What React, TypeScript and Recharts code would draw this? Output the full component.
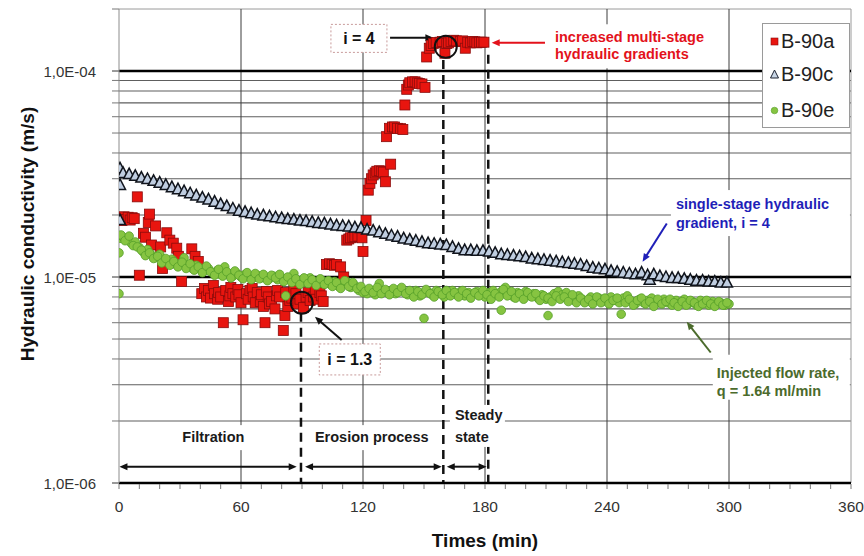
import React from 'react';
import { ScatterChart, Scatter, XAxis, YAxis, ReferenceLine, ReferenceDot, Legend, Label } from 'recharts';

const FONT = '"Liberation Sans", Arial, Helvetica, sans-serif';
const UNIT = 1e-6; // series values below are in units of 1E-06 m/s

// ---------- axes ----------
const xTicks = [0, 10, 20, 30, 40, 50, 60, 70, 80, 90, 100, 110, 120, 130, 140, 150, 160, 170, 180, 190, 200, 210, 220, 230, 240, 250, 260, 270, 280, 290, 300, 310, 320, 330, 340, 350, 360];
const xLabelled = [0, 60, 120, 180, 240, 300, 360];
const xGrid = [60, 120, 180, 240, 300];
const yDecades = [1e-6, 1e-5, 1e-4];
const yDecadeLabels = ['1,0E-06', '1,0E-05', '1,0E-04'];
const yMinor = [2e-6, 3e-6, 4e-6, 5e-6, 6e-6, 7e-6, 8e-6, 9e-6, 2e-5, 3e-5, 4e-5, 5e-5, 6e-5, 7e-5, 8e-5, 9e-5];
const yTop = 2e-4;
const yTicks = [...yDecades, ...yMinor, yTop].sort((a, b) => a - b);

// ---------- series: [time (min), K (1E-06 m/s)] ----------
const b90a: [number, number][] = [
  [0.5, 19.5], [1.5, 18.8], [2.5, 19.6], [3.5, 19.0], [4.5, 19.5], [5.5, 18.9], [6.5, 19.4], [7.5, 19.2],
  [9, 24.5], [10, 10.2], [12, 16.3], [13, 15.6], [14.4, 18.4], [15, 20.2], [16, 14.3], [18, 17.7],
  [20.5, 14.0], [21.4, 11.0], [23.5, 16.4], [25, 15.1], [26.7, 14.6], [28.4, 13.8], [29.2, 12.6], [30.8, 9.5],
  [35.8, 13.7], [37.4, 12.6], [39, 11.9], [40.7, 8.3], [42, 8.8], [43, 8.0], [44, 8.6], [45, 7.9], [46.4, 9.1], [47, 8.3],
  [48.5, 7.8], [49, 8.4], [50, 8.0], [51.3, 6.0], [52.5, 8.6], [53.8, 7.6], [54.5, 8.1], [55, 8.9], [56, 8.3], [57.4, 8.0],
  [58.5, 8.7], [59, 8.2], [60, 7.5], [61, 6.2], [62.7, 8.3], [63.5, 7.8], [64.4, 8.6], [65.5, 8.8], [66, 8.0], [67, 7.5],
  [68, 8.4], [69.5, 7.6], [70, 8.2], [71, 7.2], [71.8, 6.0], [72.5, 8.5], [73.4, 8.0], [74, 7.4], [75, 7.6], [76.7, 7.0],
  [77.5, 8.1], [78, 8.6], [79, 8.0], [80.8, 5.5], [81.6, 6.5], [82, 8.4], [83, 7.2], [84, 7.7], [85, 7.9], [86, 8.6],
  [87, 8.3], [88, 7.4], [89, 7.8], [90.7, 7.1], [92, 8.0], [93, 8.4], [94, 7.7], [95.6, 8.0], [96.5, 8.6], [97, 7.8],
  [98.8, 8.4], [99.5, 8.1], [100.4, 7.6], [102, 11.5], [103.5, 11.6], [104.8, 11.5], [106, 11.4],
  [107, 11.5], [109, 11.2], [110.5, 10.0], [112, 15.1], [113, 15.3], [113.8, 15.5], [115, 15.6], [116, 15.7],
  [117.5, 15.8], [119.5, 15.5], [120, 13.3], [121.5, 18.8], [122.6, 26.4], [123.4, 28.5], [124.2, 30.0], [125, 31.3],
  [126, 32.0], [126.8, 32.6], [128, 32.8], [129, 32.6], [130, 32.3], [131, 29.0], [131.6, 48.0], [133, 52.7],
  [133.6, 35.3], [134.5, 53.5], [135.5, 53.5], [137, 52.7], [138.5, 52.5], [139.6, 52.0], [140.6, 68.4], [141.5, 81.5],
  [142.3, 85.5], [143, 87.7], [144.3, 88.6], [145.6, 88.6], [146.7, 87.5], [147.7, 87.0], [149, 86.5], [150.5, 83.3],
  [151.3, 117], [152.6, 129], [153.5, 133], [154.6, 136], [156, 137.5], [157.9, 138], [159, 139], [160.3, 122],
  [161.2, 136], [162, 137], [163.3, 139], [164.6, 141], [166, 140], [167.9, 139], [169, 140], [170.3, 129],
  [171.5, 138], [172.8, 137], [174, 139], [175, 138.5], [176, 137], [177.2, 138], [178.3, 138], [179.5, 138],
];

const b90c: [number, number][] = [
  [0.5, 33.7], [0.5, 28.0], [0.5, 18.9], [2, 32.0], [5, 31.6], [8, 31.0], [11, 30.4], [14, 29.9], [17, 29.3],
  [20, 28.7], [23, 28.0], [26, 27.3], [29, 26.7], [32, 26.1], [35, 25.5], [38, 24.9], [41, 24.3], [44, 23.8],
  [47, 23.2], [50, 22.6], [53, 22.1], [56, 21.5], [59, 21.0], [62, 20.7], [65, 20.4], [68, 20.1], [71, 19.9],
  [74, 19.7], [77, 19.5], [80, 19.3], [83, 19.1], [86, 19.0], [89, 18.8], [92, 18.7], [95, 18.5], [98, 18.3],
  [101, 18.2], [104, 18.0], [107, 17.8], [110, 17.7], [113, 17.6], [116, 17.4], [119, 17.3], [122, 17.0], [125, 16.8],
  [128, 16.5], [131, 16.2], [134, 15.9], [137, 15.7], [140, 15.4], [143, 15.2], [146, 15.0], [149, 14.8], [152, 14.6],
  [155, 14.5], [158, 14.4], [161, 14.3], [164, 14.0], [167, 13.7], [170, 13.5], [173, 13.5], [176, 13.4], [179, 13.4],
  [182, 13.3], [185, 13.1], [188, 12.9], [191, 12.8], [194, 12.7], [197, 12.6], [200, 12.5], [203, 12.3], [206, 12.2],
  [209, 12.1], [212, 12.0], [215, 11.9], [218, 11.8], [221, 11.7], [224, 11.6], [227, 11.5], [230, 11.3], [233, 11.1],
  [236, 11.0], [239, 10.9], [242, 10.7], [245, 10.6], [248, 10.5], [251, 10.4], [254, 10.3], [257, 10.5], [260, 10.2],
  [261, 9.7], [263, 10.3], [266, 10.1], [269, 10.0], [272, 9.9], [275, 9.9], [278, 9.8], [281, 9.7], [284, 9.6],
  [287, 9.6], [290, 9.5], [293, 9.5], [296, 9.4], [299, 9.4],
];

const b90e: [number, number][] = [
  [0, 8.3], [0, 13.1], [1, 15.4], [2, 15.6], [4, 15.2], [6, 14.6], [8, 14.8], [10, 13.9], [12, 13.2], [14, 13.6],
  [16, 12.8], [18, 12.4], [20, 12.9], [22, 12.0], [24, 11.8], [26, 12.2], [28, 11.5], [30, 11.6], [32, 12.4], [34, 11.3],
  [36, 11.0], [38, 11.4], [40, 10.9], [42, 10.7], [44, 11.0], [46, 10.5], [48, 10.7], [50, 10.3], [52, 11.2], [54, 10.4],
  [56, 10.1], [58, 10.4], [60, 10.0], [62, 10.3], [64, 10.1], [66, 9.9], [68, 10.2], [70, 9.9], [72, 10.0], [74, 9.8],
  [76, 10.1], [78, 9.7], [80, 9.9], [82, 8.1], [84, 9.8], [86, 10.4], [88, 9.5], [90, 9.6], [92, 9.4], [94, 9.9],
  [96, 9.5], [98, 9.3], [100, 9.6], [102, 9.4], [104, 9.2], [106, 9.5], [108, 9.0], [110, 9.3], [112, 9.5], [114, 8.9],
  [116, 9.1], [118, 8.6], [120, 8.4], [122, 8.3], [124, 8.6], [126, 8.2], [128, 9.3], [130, 8.5], [132, 8.4], [134, 8.6],
  [136, 8.3], [138, 8.7], [140, 8.5], [142, 8.2], [144, 8.4], [146, 8.6], [148, 8.1], [150, 8.4], [150, 6.3], [152, 8.5],
  [154, 8.2], [156, 8.6], [158, 8.3], [160, 8.0], [162, 8.4], [164, 8.6], [166, 8.2], [168, 8.5], [170, 8.1], [172, 8.4],
  [174, 8.2], [176, 8.5], [178, 8.3], [180, 8.0], [182, 8.4], [184, 8.6], [186, 8.2], [188, 8.5], [188, 6.9], [190, 8.9],
  [192, 8.3], [194, 8.0], [196, 8.4], [198, 8.2], [200, 8.5], [202, 8.1], [204, 8.3], [206, 7.9], [208, 8.2], [210, 7.8],
  [211, 6.5], [212, 8.0], [214, 8.3], [216, 8.5], [218, 8.2], [220, 8.4], [222, 7.9], [224, 7.7], [226, 8.1], [228, 7.8],
  [230, 7.6], [232, 8.0], [234, 7.7], [236, 7.9], [238, 7.6], [240, 7.8], [242, 8.0], [244, 7.7], [246, 7.5], [247, 6.6],
  [248, 7.9], [250, 8.1], [252, 7.6], [254, 7.4], [256, 7.8], [258, 7.5], [260, 7.7], [262, 7.9], [264, 7.4], [266, 7.6],
  [268, 7.8], [270, 7.5], [272, 7.3], [274, 7.7], [276, 7.5], [278, 7.8], [280, 7.4], [282, 7.6], [284, 7.3], [286, 7.7],
  [288, 7.5], [290, 7.3], [292, 7.6], [294, 7.4], [296, 7.5], [298, 7.3], [300, 7.4],
  // second reading of the band (odd minutes)
  [1, 16.0], [3, 15.0], [5, 15.8], [7, 14.2], [9, 14.0], [11, 13.5], [13, 12.7], [15, 13.1], [17, 12.3], [19, 12.6],
  [21, 11.7], [23, 12.3], [25, 11.4], [27, 11.9], [29, 11.2], [31, 11.8], [33, 11.0], [35, 11.6], [37, 10.8], [39, 11.2],
  [41, 10.5], [43, 11.3], [45, 10.6], [47, 10.2], [49, 10.9], [51, 10.1], [53, 10.6], [55, 9.9], [57, 10.7], [59, 10.2],
  [61, 9.8], [63, 10.5], [65, 9.7], [67, 10.4], [69, 9.8], [71, 10.3], [73, 9.6], [75, 10.2], [77, 9.9], [79, 10.3],
  [81, 9.5], [83, 10.0], [85, 9.4], [87, 9.8], [89, 9.2], [91, 9.9], [93, 9.3], [95, 9.7], [97, 9.1], [99, 9.8],
  [101, 9.2], [103, 9.6], [105, 9.0], [107, 9.4], [109, 8.8], [111, 9.6], [113, 9.0], [115, 9.4], [117, 8.8], [119, 9.0],
  [121, 8.5], [123, 8.8], [125, 8.4], [127, 8.9], [129, 8.3], [131, 8.7], [133, 8.2], [135, 8.8], [137, 8.4], [139, 8.9],
  [141, 8.3], [143, 8.6], [145, 8.0], [147, 8.5], [149, 8.2], [151, 8.7], [153, 8.3], [155, 8.0], [157, 8.5], [159, 8.2],
  [161, 8.6], [163, 8.1], [165, 8.4], [167, 8.0], [169, 8.6], [171, 8.3], [173, 7.9], [175, 8.4], [177, 8.1], [179, 8.6],
  [181, 8.2], [183, 7.8], [185, 8.3], [187, 8.0], [189, 8.7], [191, 8.1], [193, 8.5], [195, 7.9], [197, 8.3], [199, 7.8],
  [201, 8.4], [203, 8.0], [205, 8.3], [207, 7.7], [209, 8.1], [211, 7.9], [213, 7.6], [215, 8.1], [217, 7.8], [219, 8.0],
  [221, 7.6], [223, 8.2], [225, 7.5], [227, 7.9], [229, 7.5], [231, 7.8], [233, 7.4], [235, 8.0], [237, 7.5], [239, 7.9],
  [241, 7.4], [243, 7.7], [245, 7.9], [249, 7.5], [251, 7.8], [253, 7.3], [255, 7.7], [257, 7.9], [259, 7.4], [261, 7.6],
  [263, 7.2], [265, 7.8], [267, 7.4], [269, 7.6], [271, 7.8], [273, 7.5], [275, 7.2], [277, 7.6], [279, 7.3], [281, 7.7],
  [283, 7.5], [285, 7.2], [287, 7.4], [289, 7.7], [291, 7.4], [293, 7.2], [295, 7.6], [297, 7.3], [299, 7.5],
];

const seriesNames = ['B-90a', 'B-90c', 'B-90e'];

// ---------- annotations (data coordinates) ----------
const phaseLines = [
  { t: 89.5, top: 6.7e-6 },
  { t: 159.5, top: 1.13e-4 },
  { t: 181.6, top: 1.2e-4 },
];
const circles = [
  { t: 89.9, k: 7.5e-6 },
  { t: 160.7, k: 1.31e-4 },
];
const arrows = [
  { a: [0.2, 1.2e-6], b: [87.4, 1.2e-6], color: '#111', both: true },
  { a: [91.5, 1.2e-6], b: [158.7, 1.2e-6], color: '#111', both: true },
  { a: [161.2, 1.2e-6], b: [180.8, 1.2e-6], color: '#111', both: true },
  { a: [133.3, 1.45e-4], b: [154.6, 1.45e-4], color: '#111', both: false },
  { a: [109.5, 4.94e-6], b: [96.4, 6.41e-6], color: '#111', both: false },
  { a: [209.5, 1.372e-4], b: [183.3, 1.372e-4], color: '#e3121b', both: false },
  { a: [269.4, 1.82e-5], b: [257.5, 1.186e-5], color: '#1f1fb8', both: false },
  { a: [291, 4.3e-6], b: [279.2, 6.06e-6], color: '#4b6b2c', both: false },
];
const notes = [
  { t: 46.4, k: 1.67e-6, lines: ['Filtration'], color: '#1a1a1a', size: 14.5, anchor: 'middle', lineH: 0, box: [-33, -12, 67, 25], border: false },
  { t: 124.3, k: 1.67e-6, lines: ['Erosion process'], color: '#1a1a1a', size: 14.5, anchor: 'middle', lineH: 0, box: [-59, -12, 118, 25], border: false },
  { t: 165.2, k: 2.14e-6, lines: ['Steady', 'state'], color: '#1a1a1a', size: 14.5, anchor: 'start', lineH: 22, box: [-5, -10, 55, 42], border: false },
  { t: 214.4, k: 1.458e-4, lines: ['increased multi-stage', 'hydraulic gradients'], color: '#e3121b', size: 14.5, anchor: 'start', lineH: 17, box: [-7, -13, 160, 44], border: false },
  { t: 273.9, k: 2.26e-5, lines: ['single-stage hydraulic', 'gradient, i = 4'], color: '#1f1fb8', size: 14.5, anchor: 'start', lineH: 18.7, box: [-5, -14, 179, 46], border: false },
  { t: 294, k: 3.43e-6, lines: ['Injected flow rate,', 'q = 1.64 ml/min'], color: '#4b6b2c', size: 14.5, anchor: 'start', lineH: 18.3, box: [-4, -18, 137, 45], border: false },
  { t: 118, k: 1.44e-4, lines: ['i = 4'], color: '#111', size: 16, anchor: 'middle', lineH: 0, box: [-28, -14, 56, 28], border: true },
  { t: 113.5, k: 3.98e-6, lines: ['i = 1.3'], color: '#111', size: 16, anchor: 'middle', lineH: 0, box: [-30.5, -15.5, 61, 31], border: true },
];

const toRows = (pairs: [number, number][]) => pairs.map(([t, k]) => ({ t, k: k * UNIT }));

// ---------- shapes ----------
const SquareShape = (p: any) => (
  <rect x={p.cx - 5} y={p.cy - 5} width={10} height={10} fill="#e8150f" stroke="#8a0c0c" strokeWidth={0.8} />
);
const TriShape = (p: any) => (
  <path d={`M${p.cx},${p.cy - 6} L${p.cx + 5.5},${p.cy + 4.5} L${p.cx - 5.5},${p.cy + 4.5} Z`} fill="#bfcde0" stroke="#10141c" strokeWidth={1.5} />
);
const DotShape = (p: any) => (
  <circle cx={p.cx} cy={p.cy} r={4.3} fill="#86c441" stroke="#56a02a" strokeWidth={0.8} />
);

function head(x1: number, y1: number, x2: number, y2: number, len: number, w: number) {
  const a = Math.atan2(y2 - y1, x2 - x1);
  const bx = x2 - len * Math.cos(a);
  const by = y2 - len * Math.sin(a);
  const px = (-Math.sin(a) * w) / 2;
  const py = (Math.cos(a) * w) / 2;
  return `M${x2},${y2} L${bx + px},${by + py} L${bx - px},${by - py} Z`;
}

const arrowShape = (color: string, both: boolean) => (p: any) => {
  const { x1, y1, x2, y2 } = p;
  const len = 8;
  const a = Math.atan2(y2 - y1, x2 - x1);
  const ex = x2 - (len - 1) * Math.cos(a);
  const ey = y2 - (len - 1) * Math.sin(a);
  const sx = both ? x1 + (len - 1) * Math.cos(a) : x1;
  const sy = both ? y1 + (len - 1) * Math.sin(a) : y1;
  return (
    <g>
      <line x1={sx} y1={sy} x2={ex} y2={ey} stroke={color} strokeWidth={2} />
      <path d={head(x1, y1, x2, y2, len, 7)} fill={color} />
      {both && <path d={head(x2, y2, x1, y1, len, 7)} fill={color} />}
    </g>
  );
};

const noteShape = (o: any) => (p: any) => {
  const { cx, cy } = p;
  return (
    <g>
      <rect
        x={cx + o.box[0]} y={cy + o.box[1]} width={o.box[2]} height={o.box[3]}
        fill="#fff" stroke={o.border ? '#c89a9a' : 'none'} strokeDasharray={o.border ? '2 2' : undefined} strokeWidth={1}
      />
      {o.lines.map((l: string, i: number) => (
        <text key={i} x={cx} y={cy + i * o.lineH} textAnchor={o.anchor} dominantBaseline="central"
          fill={o.color} fontSize={o.size} fontWeight="bold" fontFamily={FONT}>{l}</text>
      ))}
    </g>
  );
};

const XTick = (p: any) => {
  const v = p.payload.value;
  return (
    <g>
      <line x1={p.x} y1={p.y + 1} x2={p.x} y2={p.y + 6} stroke="#777" strokeWidth={1} />
      {xLabelled.includes(v) && (
        <text x={p.x} y={p.y + 23} textAnchor="middle" dominantBaseline="central" fontSize={15.5} fill="#333" fontFamily={FONT}>{v}</text>
      )}
    </g>
  );
};

const YTick = (p: any) => {
  const v = p.payload.value;
  const i = yDecades.indexOf(v);
  return (
    <g>
      <line x1={p.x - 7} y1={p.y} x2={p.x} y2={p.y} stroke="#777" strokeWidth={i >= 0 ? 1.5 : 1} />
      {i >= 0 && (
        <text x={p.x - 23} y={p.y} textAnchor="end" dominantBaseline="central" fontSize={15} fill="#333" fontFamily={FONT}>{yDecadeLabels[i]}</text>
      )}
    </g>
  );
};

const YTitle = (p: any) => {
  const vb = p.viewBox;
  const cx = vb.x + 27;
  const cy = vb.y + vb.height / 2 - 12;
  return (
    <text transform={`rotate(-90 ${cx} ${cy})`} x={cx} y={cy} textAnchor="middle" dominantBaseline="central"
      fontSize={19} fontWeight="bold" fill="#111" fontFamily={FONT}>Hydraulic conductivity (m/s)</text>
  );
};

const XTitle = (p: any) => {
  const vb = p.viewBox;
  return (
    <text x={vb.x + vb.width / 2} y={vb.y + 57} textAnchor="middle" dominantBaseline="central"
      fontSize={19} fontWeight="bold" fill="#111" fontFamily={FONT}>Times (min)</text>
  );
};

const legendIcon = (i: number) => {
  if (i === 0) return <rect x={6} y={7} width={7} height={7} fill="#e8150f" stroke="#8a0c0c" strokeWidth={0.6} />;
  if (i === 1) return <path d="M9.5,6 L13.5,14 L5.5,14 Z" fill="#c9d6e6" stroke="#1c2230" strokeWidth={1} />;
  return <circle cx={9.5} cy={10.5} r={3.3} fill="#86c441" stroke="#56a02a" strokeWidth={0.6} />;
};

const renderLegend = (props: any) => {
  const items = (props.payload || []) as any[];
  const tops = [6, 39, 75];
  return (
    <div style={{ width: 88, height: 105, border: '1px solid #9a9a9a', background: '#fff', boxSizing: 'border-box', position: 'relative', fontFamily: FONT }}>
      {items.map((it: any, idx: number) => {
        const si = seriesNames.indexOf(it.value);
        return (
          <div key={it.value} style={{ position: 'absolute', left: 2, top: tops[idx], height: 22, display: 'flex', alignItems: 'center' }}>
            <svg width={16} height={21} style={{ display: 'block' }}>{legendIcon(si)}</svg>
            <span style={{ fontSize: 20, color: '#222', lineHeight: '22px', marginLeft: 0 }}>{it.value}</span>
          </div>
        );
      })}
    </div>
  );
};

export default function App() {
  return (
    <div style={{ position: 'absolute', left: 0, top: 0, width: 864, height: 556, background: '#fff' }}>
      <ScatterChart width={864} height={556} margin={{ top: 9, right: 13, bottom: 0, left: 0 }}>
        <XAxis
          type="number" dataKey="t" domain={[0, 360]} ticks={xTicks} interval={0}
          tickSize={0} tickMargin={0} tickLine={false} allowDataOverflow
          axisLine={{ stroke: '#000', strokeWidth: 2.5 }} tick={XTick} height={73}
          label={<Label content={XTitle} />}
        />
        <YAxis
          type="number" dataKey="k" scale="log" domain={[1e-6, 2e-4]} ticks={yTicks} interval={0}
          tickSize={0} tickMargin={0} tickLine={false} allowDataOverflow
          axisLine={{ stroke: '#8c8c8c', strokeWidth: 1 }} tick={YTick} width={119}
          label={<Label content={YTitle} />}
        />
        {yMinor.map((v) => (
          <ReferenceLine key={'hm' + v} y={v} stroke="#5e5e5e" strokeWidth={1.1} />
        ))}
        <ReferenceLine y={yTop} stroke="#9a9a9a" strokeWidth={1} />
        {xGrid.map((v) => (
          <ReferenceLine key={'vg' + v} x={v} stroke="#3c3c3c" strokeWidth={1} />
        ))}
        <ReferenceLine x={360} stroke="#9a9a9a" strokeWidth={1} />
        {yDecades.slice(1).map((v) => (
          <ReferenceLine key={'hM' + v} y={v} stroke="#000" strokeWidth={2.6} />
        ))}
        {phaseLines.map((d) => (
          <ReferenceLine key={'ph' + d.t} segment={[{ x: d.t, y: d.top }, { x: d.t, y: 1e-6 }]} stroke="#111" strokeWidth={2.5} strokeDasharray="9 6" />
        ))}
        {notes.map((o, i) => (
          <ReferenceDot key={'n' + i} x={o.t} y={o.k} r={1} shape={noteShape(o)} />
        ))}
        {arrows.map((a, i) => (
          <ReferenceLine key={'ar' + i} segment={[{ x: a.a[0], y: a.a[1] }, { x: a.b[0], y: a.b[1] }]} shape={arrowShape(a.color, a.both)} />
        ))}
        <Scatter name={seriesNames[0]} data={toRows(b90a)} shape={SquareShape} isAnimationActive={false} />
        <Scatter name={seriesNames[1]} data={toRows(b90c)} shape={TriShape} isAnimationActive={false} />
        <Scatter name={seriesNames[2]} data={toRows(b90e)} shape={DotShape} isAnimationActive={false} />
        {circles.map((c, i) => (
          <ReferenceDot key={'c' + i} x={c.t} y={c.k} r={11} fill="none" stroke="#111" strokeWidth={2} />
        ))}
        <Legend
          layout="vertical" align="center" verticalAlign="middle" content={renderLegend}
          wrapperStyle={{ position: 'absolute', left: 762, top: 23, width: 88, height: 105 }}
        />
      </ScatterChart>
    </div>
  );
}
